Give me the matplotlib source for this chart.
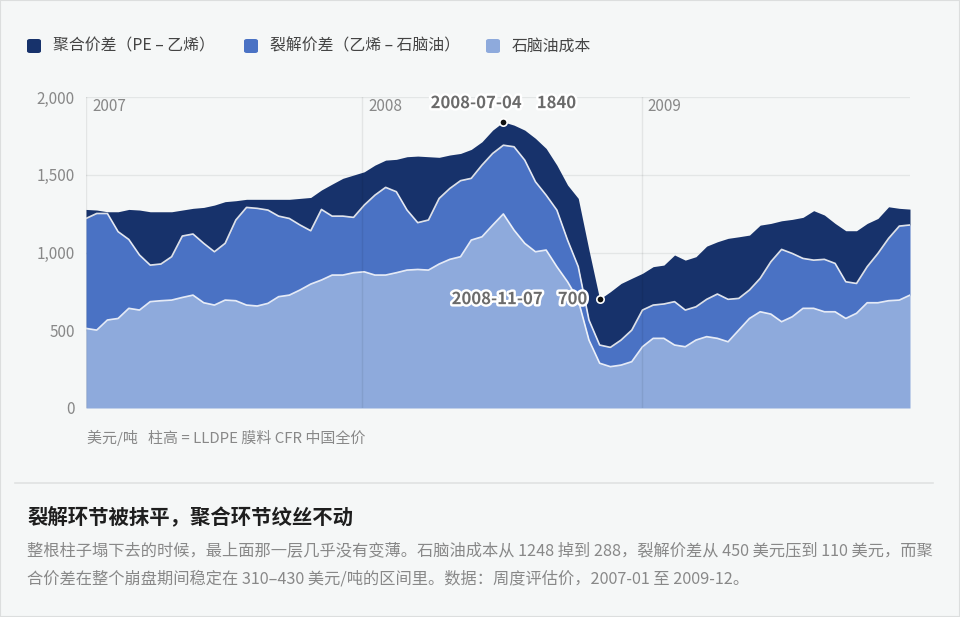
import matplotlib
matplotlib.use("Agg")
import matplotlib.pyplot as plt
import matplotlib.patheffects as pe
from matplotlib.patches import FancyBboxPatch, Rectangle
from matplotlib.lines import Line2D
from matplotlib.ticker import FuncFormatter
import pandas as pd

plt.rcParams["font.family"] = ["Noto Sans CJK SC", "DejaVu Sans"]

# biweekly estimates, USD/t
dates = pd.date_range("2007-01-05", periods=78, freq="14D")

naphtha = [
    512, 501, 566, 576, 641, 630, 684, 690, 694, 711, 726, 677, 662,
    694, 690, 662, 656, 673, 716, 726, 759, 797, 823, 855, 855, 870,
    876, 855, 855, 870, 887, 891, 887, 926, 956, 973, 1080, 1101, 1176,
    1248, 1144, 1059, 1005, 1016, 909, 812, 694, 437, 288, 266, 276, 298,
    394, 448, 448, 405, 394, 437, 459, 448, 426, 501, 576, 619, 604,
    555, 587, 641, 641, 619, 619, 576, 609, 677, 677, 690, 694, 726,
]
crack = [
    707, 750, 685, 558, 443, 354, 235, 236, 279, 395, 393, 382, 343,
    365, 519, 628, 628, 600, 518, 493, 418, 343, 454, 379, 379, 356,
    429, 514, 564, 521, 386, 301, 322, 422, 456, 489, 397, 461, 461,
    442, 536, 535, 450, 353, 364, 268, 215, 129, 117, 124, 161, 203,
    236, 214, 221, 279, 236, 214, 240, 285, 273, 204, 183, 215, 337,
    465, 407, 321, 310, 337, 311, 236, 192, 232, 317, 401, 476, 451,
]
poly = [
    58, 22, 11, 128, 193, 289, 343, 336, 289, 167, 165, 231, 300,
    268, 124, 52, 58, 69, 108, 123, 171, 214, 125, 206, 243, 272,
    214, 193, 175, 208, 343, 428, 407, 264, 215, 175, 186, 150, 150,
    150, 139, 193, 279, 300, 289, 354, 439, 450, 295, 358, 364, 333,
    236, 247, 250, 300, 321, 322, 342, 336, 392, 396, 353, 342, 246,
    184, 219, 264, 318, 285, 257, 328, 339, 278, 225, 203, 114, 102,
]

labels = ["聚合价差（PE – 乙烯）", "裂解价差（乙烯 – 石脑油）", "石脑油成本"]
colors = ["#17326b", "#4a72c4", "#8eaadc"]
peak = ("2008-07-04", 1840)
trough = ("2008-11-07", 700)

BG = "#f5f7f7"
GRAY = "#888888"

mid = [n + c for n, c in zip(naphtha, crack)]
total = [m + p for m, p in zip(mid, poly)]

fig = plt.figure(figsize=(9.6, 6.17), dpi=100, facecolor=BG)
ax = fig.add_axes([86 / 960, 1 - 408 / 617, 824 / 960, 311 / 617])
ax.set_facecolor(BG)

ax.fill_between(dates, 0, naphtha, color=colors[2], lw=0, zorder=2)
ax.fill_between(dates, naphtha, mid, color=colors[1], lw=0, zorder=2)
ax.fill_between(dates, mid, total, color=colors[0], lw=0, zorder=2)
ax.plot(dates, naphtha, color="white", lw=1.2, alpha=0.85, zorder=3)
ax.plot(dates, mid, color="white", lw=1.2, alpha=0.85, zorder=3)

ax.set_xlim(dates[0], dates[-1])
ax.set_ylim(0, 2000)
ax.set_yticks([0, 500, 1000, 1500, 2000])
ax.yaxis.set_major_formatter(FuncFormatter(lambda v, _: f"{int(v):,}"))
ax.tick_params(axis="y", length=0, pad=8, labelsize=11, labelcolor=GRAY)
ax.set_xticks([])
for s in ax.spines.values():
    s.set_visible(False)
for v in [500, 1000, 1500, 2000]:
    ax.axhline(v, color="#e3e6e6", lw=0.9, zorder=1)

year_lines = [dates[0], pd.Timestamp("2008-01-01"), pd.Timestamp("2009-01-01")]
for yr, xv in zip(["2007", "2008", "2009"], year_lines):
    ax.axvline(xv, color="black", alpha=0.07, lw=1.0, zorder=4)
    ax.text(xv + pd.Timedelta(days=8), 1938, yr, ha="left", va="center",
            fontsize=11, color=GRAY, zorder=5)

halo = [pe.withStroke(linewidth=3.5, foreground="white")]
for (d, v), ha, dx, dy in [(peak, "center", 0, 13.5), (trough, "right", -9, 0)]:
    xd = pd.Timestamp(d)
    ax.scatter([xd], [v], s=28, color="#111111", edgecolor="white",
               linewidth=1.2, zorder=6)
    ax.annotate(f"{d}    {v}", (xd, v), xytext=(dx, dy),
                textcoords="offset points", ha=ha, va="center",
                fontsize=12, fontweight="bold", color="#6b6b6b",
                path_effects=halo, zorder=7)

# legend
lx = [27, 244, 486]
for x0, lab, col in zip(lx, labels, colors):
    fig.add_artist(FancyBboxPatch(
        (x0 / 960, 1 - 53 / 617), 14 / 960, 14 / 617,
        boxstyle="round,pad=0,rounding_size=0.003",
        transform=fig.transFigure, facecolor=col, edgecolor="none"))
    fig.text((x0 + 26) / 960, 1 - 46 / 617, lab, ha="left", va="center",
             fontsize=11.4, color="#444444")

fig.text(87 / 960, 1 - 438 / 617, "美元/吨   柱高 = LLDPE 膜料 CFR 中国全价",
         ha="left", va="center", fontsize=10.8, color=GRAY)

fig.add_artist(Line2D([15 / 960, 933 / 960], [1 - 483 / 617] * 2,
                      transform=fig.transFigure, color="#e0e2e2", lw=1.2))

fig.text(27 / 960, 1 - 517 / 617, "裂解环节被抹平，聚合环节纹丝不动",
         ha="left", va="center", fontsize=14.7, fontweight="bold",
         color="#1e1e1e")
body = [
    "整根柱子塌下去的时候，最上面那一层几乎没有变薄。石脑油成本从 1248 掉到 288，"
    "裂解价差从 450 美元压到 110 美元，而聚",
    "合价差在整个崩盘期间稳定在 310–430 美元/吨的区间里。数据：周度评估价，2007-01 至 2009-12。",
]
for i, line in enumerate(body):
    fig.text(27 / 960, 1 - (551 + 28 * i) / 617, line, ha="left",
             va="center", fontsize=11.7, color=GRAY)

fig.add_artist(Rectangle((0, 0), 1, 1, transform=fig.transFigure,
                         fill=False, edgecolor="#dcdede", lw=1.5))

fig.savefig("out.png", dpi=100, facecolor=BG)
